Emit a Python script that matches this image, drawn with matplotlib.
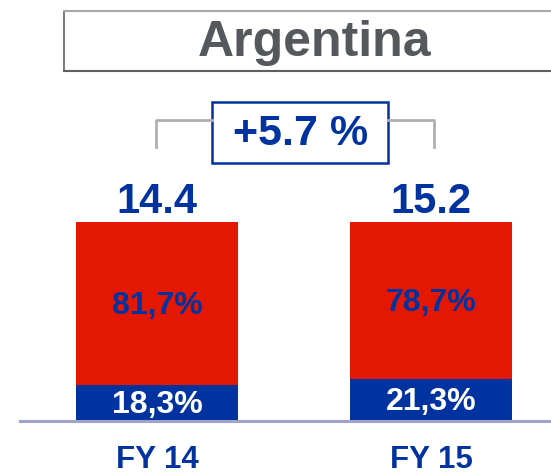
import matplotlib
matplotlib.use("Agg")
import matplotlib.pyplot as plt
from matplotlib.patches import Rectangle
from matplotlib.lines import Line2D

# Data
categories = ["FY 14", "FY 15"]
totals = [14.4, 15.2]
share_bottom = [18.3, 21.3]   # blue segment (%)
share_top = [81.7, 78.7]      # red segment (%)
growth_label = "+5.7 %"
title = "Argentina"

RED = "#e41703"
BLUE = "#0033a0"
GREY_TXT = "#55585c"
FONT = "Liberation Sans"

W, H, DPI = 551, 475, 100
fig = plt.figure(figsize=(W / DPI, H / DPI), dpi=DPI)
fig.patch.set_facecolor("white")

# Axes spanning the whole canvas; limits chosen so bars sit in the lower area
ax = fig.add_axes([0, 0, 1, 1])
px_per_x = 274.0
px_per_y = 1.99
x0_px, base_px = 157.0, 421.0
ax.set_xlim(-x0_px / px_per_x, (W - x0_px) / px_per_x)
ax.set_ylim(-(H - base_px) / px_per_y, base_px / px_per_y)
ax.axis("off")

x = list(range(len(categories)))
bw = 162.0 / px_per_x
ax.bar(x, share_bottom, width=bw, color=BLUE, linewidth=0)
ax.bar(x, share_top, width=bw, bottom=share_bottom, color=RED, linewidth=0)

# Baseline
ax.axhline(0, xmin=20 / W, xmax=1, color="#9ea3cc", linewidth=2.2)

nudge = 2.5 / px_per_y
for i in x:
    b, t = share_bottom[i], share_top[i]
    ax.text(i, b / 2 - nudge, f"{b:.1f}%".replace(".", ","), ha="center", va="center",
            color="white", fontsize=23, fontweight="bold", family=FONT)
    ax.text(i, b + t / 2 - nudge, f"{t:.1f}%".replace(".", ","), ha="center", va="center",
            color=BLUE, fontsize=23, fontweight="bold", family=FONT)
    ax.text(i, b + t + 9 / px_per_y, f"{totals[i]:.1f}", ha="center", va="baseline",
            color=BLUE, fontsize=30, fontweight="bold", family=FONT)
    ax.text(i, -19.5, categories[i], ha="center", va="center",
            color=BLUE, fontsize=22.5, fontweight="bold", family=FONT)

# Title frame
def fx(px):
    return px / W

def fy(py):
    return 1 - py / H

fig.add_artist(Line2D([fx(64), fx(64)], [fy(11), fy(71)], color="#707070", lw=1.3))
fig.add_artist(Line2D([fx(64), fx(W + 5)], [fy(71), fy(71)], color="#606060", lw=1.5))
fig.add_artist(Line2D([fx(64), fx(W + 5)], [fy(11), fy(11)], color="#a8a8a8", lw=1.5))
fig.text(fx(315), fy(43), title, ha="center", va="center", color=GREY_TXT,
         fontsize=36, fontweight="bold", family=FONT)

# Growth bracket
gc = "#b0b0b0"
fig.add_artist(Line2D([fx(156), fx(156), fx(212)], [fy(147), fy(120), fy(120)], color=gc, lw=2))
fig.add_artist(Line2D([fx(388), fx(434), fx(434)], [fy(120), fy(120), fy(147)], color=gc, lw=2))
fig.add_artist(Rectangle((fx(212), fy(163)), fx(388) - fx(212), fy(102) - fy(163),
                         transform=fig.transFigure, facecolor="white",
                         edgecolor=BLUE, linewidth=1.8))
fig.text(fx(301), fy(134), growth_label, ha="center", va="center", color=BLUE,
         fontsize=31, fontweight="bold", family=FONT)

fig.savefig("out.png", dpi=DPI)
